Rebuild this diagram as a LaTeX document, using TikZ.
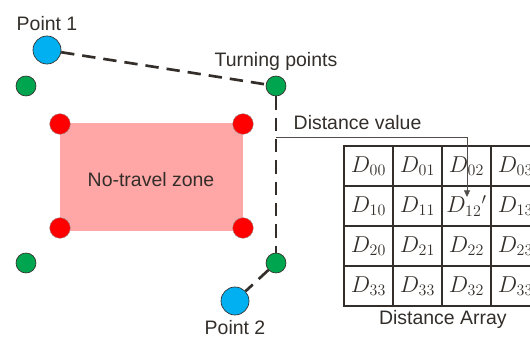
\documentclass[tikz,border=0pt]{standalone}
\usepackage{fontspec}
\setmainfont{Liberation Sans}
\usetikzlibrary{arrows.meta,positioning}
\definecolor{SkyBlue}{HTML}{00B0F0}
\definecolor{PtGreen}{HTML}{00A550}
\definecolor{PtRed}{HTML}{FF0000}
\definecolor{ZonePink}{HTML}{FFA6A6}
\definecolor{Ink}{HTML}{332E2A}

\begin{document}
\begin{tikzpicture}[x=0.75pt,y=-0.75pt,font=\fontsize{14.6}{17}\selectfont,text=Ink,
    endpt/.style={circle,fill=SkyBlue,draw=Ink,line width=0.5pt,minimum size=21pt,inner sep=0pt},
    turnpt/.style={circle,fill=PtGreen,draw=Ink,line width=0.5pt,minimum size=15pt,inner sep=0pt},
    cornerpt/.style={circle,fill=PtRed,draw=Ink!50,line width=0.3pt,minimum size=15.5pt,inner sep=0pt},
    route/.style={draw=Ink,line width=2pt,dash pattern=on 10pt off 6pt},
    cell/.style={draw=Ink,line width=1.3pt,minimum width=36.75pt,minimum height=30pt,
      inner sep=0pt,font=\fontsize{17.5}{20}\selectfont}]
    \useasboundingbox (0,0) rectangle (530,338);
    \fill[ZonePink] (60,123) rectangle (243,231);
    \node (zone) at (151,180) {No-travel zone};
    \foreach \n/\x/\y in {c1/60/124,c2/243/124,c3/60/228,c4/243/228}
      \node[cornerpt] (\n) at (\x,\y) {};
    \foreach \n/\x/\y in {g1/26/86,g2/26/263,t1/276/86,t2/276/263}
      \node[turnpt] (\n) at (\x,\y) {};
    \node[endpt] (p1) at (47,50) {};
    \node[endpt] (p2) at (235,301) {};
    \node[above=0pt of p1] (p1lbl) {Point 1};
    \node[below=0pt of p2] (p2lbl) {Point 2};
    \node[above=0pt of t1] (tlbl) {Turning points};
    \draw[route] (p1) -- (t1);
    \draw[route] (t1) -- (t2);
    \draw[route] (t2) -- (p2);
    \foreach \rowlist [count=\i from 0] in {
        {$D_{00}$,$D_{01}$,$D_{02}$,$D_{03}$},
        {$D_{10}$,$D_{11}$,$D_{12}{}'$,$D_{13}$},
        {$D_{20}$,$D_{21}$,$D_{22}$,$D_{23}$},
        {$D_{33}$,$D_{33}$,$D_{32}$,$D_{33}$}}{
      \foreach \ent [count=\j from 0] in \rowlist
        \node[cell] (d\i\j) at ({368.5+49*\j},{166+40*\i}) {\ent};
    }
    \node[below=-1pt of d31.south east] (arrlbl) {Distance Array};
    \coordinate (tap) at (276,137);
    \coordinate (tip) at (467,197);
    \draw[-{Triangle[length=5pt,width=4.5pt]},line width=0.6pt,color=Ink!85]
      (tap) -| (tip);
    \node[anchor=west] (dvlbl) at (289,123) {Distance value};
  \end{tikzpicture}
\end{document}
